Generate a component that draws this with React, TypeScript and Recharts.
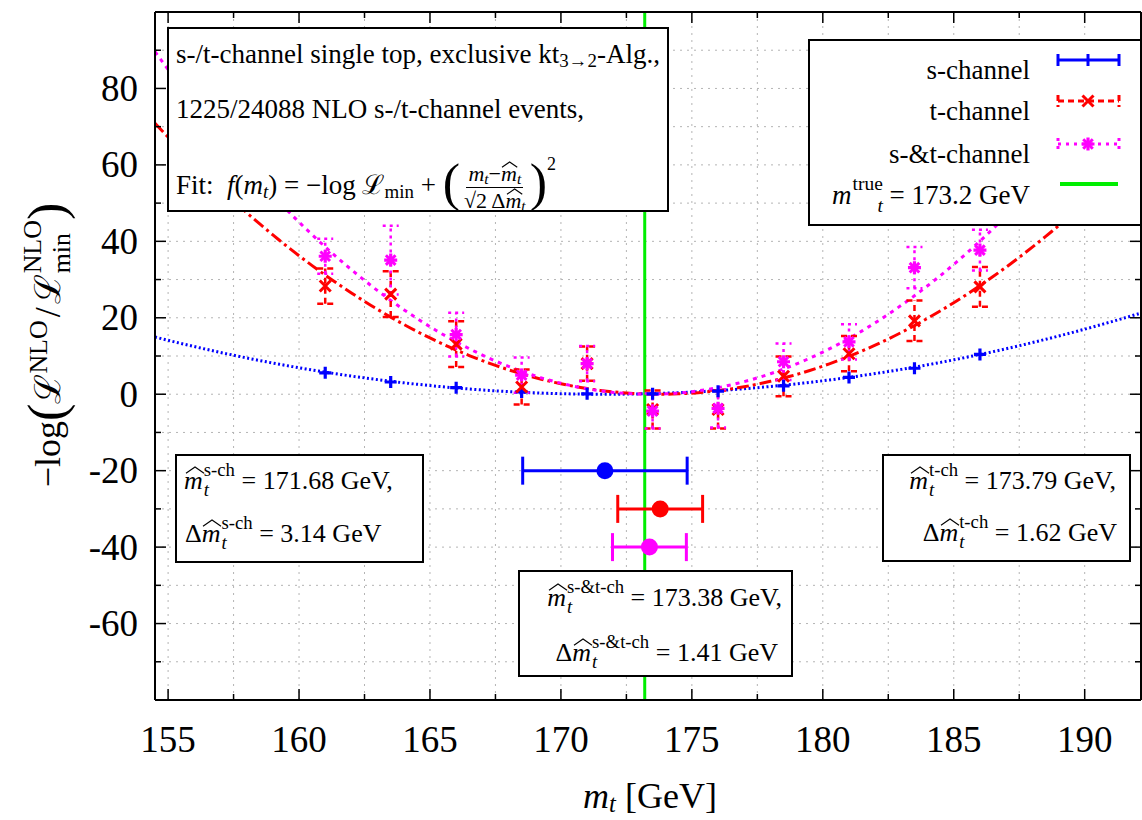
import React from "react";
import {
  ComposedChart,
  XAxis,
  YAxis,
  CartesianGrid,
  Line,
  Scatter,
  ErrorBar,
  ReferenceLine,
  Legend,
} from "recharts";

// scan points in m_t [GeV] and -log(L/Lmin) per channel
const massPoints = [161, 163.5, 166, 168.5, 171, 173.5, 176, 178.5, 181, 183.5, 186];
const sChannel = [5.6, 3.2, 1.7, 0.6, 0.1, 0.1, 0.8, 2.2, 4.4, 6.8, 10.4];
const tChannel = [28.3, 26.2, 13.1, 1.9, 8.0, -4.0, -4.0, 4.7, 10.6, 19.2, 28.1];
const tChannelErr = [4.6, 6.0, 6.0, 4.6, 4.5, 5.0, 5.0, 5.2, 4.6, 5.3, 5.2];
const stChannel = [36.1, 35.1, 15.6, 5.0, 8.0, -4.4, -3.7, 8.5, 13.7, 33.1, 37.7];
const stChannelErr = [4.6, 9.0, 5.7, 4.6, 4.6, 4.6, 5.0, 4.8, 4.6, 5.4, 5.3];

// fit results (m̂_t, Δm̂_t) for s, t and s+t, and the row they are drawn on
const fitMass = [171.68, 173.79, 173.38];
const fitWidth = [3.14, 1.62, 1.41];
const fitRowY = [-20, -30, -40];

const mTrue = 173.2;

const xDomain: [number, number] = [154.5, 192.15];
const yDomain: [number, number] = [-80, 100];
const xTicks = [155, 157.5, 160, 162.5, 165, 167.5, 170, 172.5, 175, 177.5, 180, 182.5, 185, 187.5, 190];
const yTicks = [-70, -60, -50, -40, -30, -20, -10, 0, 10, 20, 30, 40, 50, 60, 70, 80, 90];

const BLUE = "#0000ff";
const RED = "#ff0000";
const MAGENTA = "#ff00ff";
const GREEN = "#00ee00";
const SERIF = '"Liberation Serif", "Times New Roman", serif';

const PLOT_LEFT = 155;
const PLOT_RIGHT = 1141;
const PLOT_TOP = 12;
const PLOT_BOTTOM = 700;

// parabola f(m) = ((m - m̂)/(√2 Δm̂))^2 of each fit, sampled over the x range
const curveMasses = Array.from({ length: 153 }, (_, i) => xDomain[0] + i * 0.25);
const fitCurve = (k: number, m: number) => ((m - fitMass[k]) / (Math.SQRT2 * fitWidth[k])) ** 2;
const curveData = curveMasses.map((m) => ({ m, s: fitCurve(0, m), t: fitCurve(1, m), st: fitCurve(2, m) }));

const sData = massPoints.map((m, i) => ({ m, v: sChannel[i] }));
const tData = massPoints.map((m, i) => ({ m, v: tChannel[i], err: tChannelErr[i] }));
const stData = massPoints.map((m, i) => ({ m, v: stChannel[i], err: stChannelErr[i] }));
const summaryData = fitMass.map((m, i) => [{ m, v: fitRowY[i], err: fitWidth[i] }]);

const PlusMark = ({ cx, cy, color = BLUE, r = 6 }: any) => (
  <path d={`M${cx - r},${cy}H${cx + r}M${cx},${cy - r}V${cy + r}`} stroke={color} strokeWidth={3.2} fill="none" />
);
const CrossMark = ({ cx, cy, color = RED, r = 5.5 }: any) => (
  <path
    d={`M${cx - r},${cy - r}L${cx + r},${cy + r}M${cx + r},${cy - r}L${cx - r},${cy + r}`}
    stroke={color}
    strokeWidth={3}
    fill="none"
  />
);
const StarMark = ({ cx, cy, color = MAGENTA }: any) => (
  <g>
    <PlusMark cx={cx} cy={cy} color={color} r={6.5} />
    <CrossMark cx={cx} cy={cy} color={color} r={4.8} />
  </g>
);

const tickStyle = { stroke: "#000", strokeWidth: 1.5 };

const renderBottomTick = (props: any) => {
  const { x, payload } = props;
  const major = payload.value % 5 === 0;
  return (
    <g>
      <line x1={x} x2={x} y1={PLOT_BOTTOM} y2={PLOT_BOTTOM - (major ? 11 : 6)} {...tickStyle} />
      {major && (
        <text x={x} y={752} textAnchor="middle" fontFamily={SERIF} fontSize={37} fill="#000">
          {payload.value}
        </text>
      )}
    </g>
  );
};

const renderTopTick = (props: any) => {
  const { x, payload } = props;
  const major = payload.value % 5 === 0;
  return <line x1={x} x2={x} y1={PLOT_TOP} y2={PLOT_TOP + (major ? 11 : 6)} {...tickStyle} />;
};

const renderLeftTick = (props: any) => {
  const { y, payload } = props;
  const major = payload.value % 20 === 0;
  return (
    <g>
      <line x1={PLOT_LEFT} x2={PLOT_LEFT + (major ? 11 : 6)} y1={y} y2={y} {...tickStyle} />
      {major && (
        <text x={138} y={y + 12.5} textAnchor="end" fontFamily={SERIF} fontSize={37} fill="#000">
          {payload.value}
        </text>
      )}
    </g>
  );
};

const renderRightTick = (props: any) => {
  const { y, payload } = props;
  const major = payload.value % 20 === 0;
  return <line x1={PLOT_RIGHT} x2={PLOT_RIGHT - (major ? 11 : 6)} y1={y} y2={y} {...tickStyle} />;
};

// --- small typesetting helpers ---
const subStyle: React.CSSProperties = { fontSize: "0.7em", verticalAlign: "-0.22em", lineHeight: 0 };

// superscript over subscript; negative margins keep the line box from growing
const Stack = ({ sup, sub }: { sup: React.ReactNode; sub: React.ReactNode }) => (
  <span
    style={{
      display: "inline-flex",
      flexDirection: "column",
      fontSize: "0.72em",
      lineHeight: 1.12,
      verticalAlign: "0.72em",
      marginLeft: 1,
      marginTop: "-2em",
      marginBottom: "-2em",
    }}
  >
    <span>{sup}</span>
    <span>{sub}</span>
  </span>
);

const HatM = () => (
  <span style={{ position: "relative", display: "inline-block", lineHeight: 1 }}>
    <i>m</i>
    <svg
      viewBox="0 0 20 6"
      preserveAspectRatio="none"
      style={{ position: "absolute", left: "8%", width: "96%", top: "-0.04em", height: "0.24em", overflow: "visible" }}
    >
      <path d="M0,6 L10,0 L20,6" fill="none" stroke="#000" strokeWidth={1.1} vectorEffect="non-scaling-stroke" />
    </svg>
  </span>
);

const Mt = () => (
  <>
    <i>m</i>
    <span style={subStyle}>
      <i>t</i>
    </span>
  </>
);

const HatMt = ({ tag }: { tag: string }) => (
  <>
    <HatM />
    <Stack sup={tag} sub={<i>t</i>} />
  </>
);

const Frac = ({ num, den }: { num: React.ReactNode; den: React.ReactNode }) => (
  <span
    style={{
      display: "inline-flex",
      flexDirection: "column",
      alignItems: "center",
      verticalAlign: "middle",
      fontSize: 22,
      lineHeight: "24px",
      margin: "-20px 2px",
    }}
  >
    <span style={{ padding: "0 2px 1px", borderBottom: "1px solid #000" }}>{num}</span>
    <span style={{ padding: "1px 2px 0" }}>{den}</span>
  </span>
);

const bigParen: React.CSSProperties = { fontSize: 52, lineHeight: "20px", verticalAlign: "-6px", fontWeight: 300 };

const boxStyle: React.CSSProperties = {
  position: "absolute",
  background: "#fff",
  border: "2px solid #000",
  boxSizing: "border-box",
  fontFamily: SERIF,
  color: "#000",
};

const lineStyle = (size: number): React.CSSProperties => ({
  position: "absolute",
  whiteSpace: "nowrap",
  fontSize: size,
  lineHeight: `${size}px`,
});

// legend entries: label, and sample drawing
const legendRows = [
  { label: <>s-channel</>, kind: "s" },
  { label: <>t-channel</>, kind: "t" },
  { label: <>s-&amp;t-channel</>, kind: "st" },
  {
    label: (
      <>
        <i>m</i>
        <Stack sup="true" sub={<i>t</i>} /> = {mTrue} GeV
      </>
    ),
    kind: "true",
  },
];
const legendTextTops = [16, 57, 100, 141];
const legendSampleTops = [19, 60, 103, 143];

const LegendSample = ({ kind }: { kind: string }) => (
  <svg width={66} height={20} style={{ display: "block", overflow: "visible" }}>
    {kind === "s" && (
      <g stroke={BLUE} strokeWidth={3}>
        <line x1={2} x2={63} y1={10} y2={10} />
        <line x1={2} x2={2} y1={4} y2={16} />
        <line x1={63} x2={63} y1={4} y2={16} />
        <line x1={32} x2={32} y1={4} y2={16} />
      </g>
    )}
    {kind === "t" && (
      <g stroke={RED} strokeWidth={3} strokeDasharray="6 4">
        <line x1={2} x2={63} y1={10} y2={10} />
        <line x1={2} x2={2} y1={4} y2={16} />
        <line x1={63} x2={63} y1={4} y2={16} />
      </g>
    )}
    {kind === "t" && <CrossMark cx={32} cy={10} />}
    {kind === "st" && (
      <g stroke={MAGENTA} strokeWidth={3} strokeDasharray="3 5">
        <line x1={2} x2={63} y1={10} y2={10} />
        <line x1={2} x2={2} y1={4} y2={16} />
        <line x1={63} x2={63} y1={4} y2={16} />
      </g>
    )}
    {kind === "st" && <StarMark cx={32} cy={10} />}
    {kind === "true" && <line x1={4} x2={62} y1={10} y2={10} stroke={GREEN} strokeWidth={4} />}
  </svg>
);

const LegendBox = () => (
  <div style={{ ...boxStyle, left: 0, top: 0, width: 334, height: 187 }}>
    {legendRows.map((row, i) => (
      <React.Fragment key={row.kind}>
        <div style={{ ...lineStyle(27), top: legendTextTops[i], left: 0, width: 220, textAlign: "right" }}>
          {row.label}
        </div>
        <div style={{ position: "absolute", left: 246, top: legendSampleTops[i] - 10 }}>
          <LegendSample kind={row.kind} />
        </div>
      </React.Fragment>
    ))}
  </div>
);

export default function App() {
  return (
    <div style={{ position: "absolute", left: 0, top: 0, width: 1142, height: 820, background: "#fff", overflow: "hidden" }}>
      <ComposedChart width={1142} height={820} margin={{ top: 0, right: 0, bottom: 0, left: 0 }}>
        <CartesianGrid stroke="#b4b4b4" strokeDasharray="2 5" strokeWidth={1} />
        <XAxis
          dataKey="m"
          type="number"
          domain={xDomain}
          ticks={xTicks}
          allowDataOverflow
          height={120}
          tickLine={false}
          axisLine={{ stroke: "#000", strokeWidth: 2 }}
          tick={renderBottomTick}
          interval={0}
        />
        <XAxis
          xAxisId="top"
          orientation="top"
          dataKey="m"
          type="number"
          domain={xDomain}
          ticks={xTicks}
          allowDataOverflow
          height={12}
          tickLine={false}
          axisLine={{ stroke: "#000", strokeWidth: 2 }}
          tick={renderTopTick}
          interval={0}
        />
        <YAxis
          type="number"
          domain={yDomain}
          ticks={yTicks}
          allowDataOverflow
          width={155}
          tickLine={false}
          axisLine={{ stroke: "#000", strokeWidth: 2 }}
          tick={renderLeftTick}
          interval={0}
        />
        <YAxis
          yAxisId="right"
          orientation="right"
          type="number"
          domain={yDomain}
          ticks={yTicks}
          allowDataOverflow
          width={1}
          tickLine={false}
          axisLine={{ stroke: "#000", strokeWidth: 2 }}
          tick={renderRightTick}
          interval={0}
        />

        <Line data={curveData} dataKey="s" stroke={BLUE} strokeWidth={3} strokeDasharray="2 2.5" dot={false} activeDot={false} isAnimationActive={false} />
        <Line data={curveData} dataKey="t" stroke={RED} strokeWidth={3} strokeDasharray="12 4 3 4" dot={false} activeDot={false} isAnimationActive={false} />
        <Line data={curveData} dataKey="st" stroke={MAGENTA} strokeWidth={3} strokeDasharray="4 5" dot={false} activeDot={false} isAnimationActive={false} />

        <ReferenceLine x={mTrue} stroke={GREEN} strokeWidth={3} />

        <Scatter data={sData} dataKey="v" isAnimationActive={false} shape={(p: any) => <PlusMark cx={p.cx} cy={p.cy} />} />
        <Scatter data={tData} dataKey="v" isAnimationActive={false} shape={(p: any) => <CrossMark cx={p.cx} cy={p.cy} />}>
          <ErrorBar dataKey="err" direction="y" width={8} stroke={RED} strokeWidth={2.5} strokeDasharray="6 4" isAnimationActive={false} />
        </Scatter>
        <Scatter data={stData} dataKey="v" isAnimationActive={false} shape={(p: any) => <StarMark cx={p.cx} cy={p.cy} />}>
          <ErrorBar dataKey="err" direction="y" width={8} stroke={MAGENTA} strokeWidth={2.5} strokeDasharray="3 4" isAnimationActive={false} />
        </Scatter>

        {summaryData.map((d, i) => {
          const color = [BLUE, RED, MAGENTA][i];
          return (
            <Scatter
              key={i}
              data={d}
              dataKey="v"
              isAnimationActive={false}
              shape={(p: any) => <circle cx={p.cx} cy={p.cy} r={8.5} fill={color} />}
            >
              <ErrorBar dataKey="err" direction="x" width={14} stroke={color} strokeWidth={3} isAnimationActive={false} />
            </Scatter>
          );
        })}

        <Legend
          layout="horizontal"
          verticalAlign="middle"
          align="center"
          content={() => <LegendBox />}
          wrapperStyle={{ left: 808, top: 39, width: 334, height: 187 }}
        />
      </ComposedChart>

      {/* description and fit formula */}
      <div style={{ ...boxStyle, left: 167, top: 27, width: 502, height: 185 }}>
        <div style={{ ...lineStyle(27), left: 7, top: 12 }}>
          s-/t-channel single top, exclusive kt<span style={subStyle}>3→2</span>-Alg.,
        </div>
        <div style={{ ...lineStyle(27), left: 7, top: 67 }}>1225/24088 NLO s-/t-channel events,</div>
        <div style={{ ...lineStyle(27), left: 7, top: 135 }}>
          Fit:&nbsp; <i>f</i>(<Mt />) = −log ℒ<span style={subStyle}>min</span> +{" "}
          <span style={bigParen}>(</span>
          <Frac
            num={
              <>
                <Mt />−<HatM />
                <span style={subStyle}>
                  <i>t</i>
                </span>
              </>
            }
            den={
              <>
                √2 Δ<HatM />
                <span style={subStyle}>
                  <i>t</i>
                </span>
              </>
            }
          />
          <span style={bigParen}>)</span>
          <span style={{ fontSize: 18, verticalAlign: "24px", lineHeight: 0 }}>2</span>
        </div>
      </div>

      {/* s-channel fit result */}
      <div style={{ ...boxStyle, left: 175, top: 454, width: 249, height: 109 }}>
        <div style={{ ...lineStyle(26), left: 7, top: 12 }}>
          <HatMt tag="s-ch" /> = {fitMass[0]} GeV,
        </div>
        <div style={{ ...lineStyle(26), left: 8, top: 65 }}>
          Δ<HatMt tag="s-ch" /> = {fitWidth[0]} GeV
        </div>
      </div>

      {/* t-channel fit result */}
      <div style={{ ...boxStyle, left: 882, top: 454, width: 249, height: 108 }}>
        <div style={{ ...lineStyle(26), right: 13, top: 12 }}>
          <HatMt tag="t-ch" /> = {fitMass[1]} GeV,
        </div>
        <div style={{ ...lineStyle(26), right: 12, top: 64 }}>
          Δ<HatMt tag="t-ch" /> = {fitWidth[1]} GeV
        </div>
      </div>

      {/* combined fit result */}
      <div style={{ ...boxStyle, left: 518, top: 570, width: 275, height: 107 }}>
        <div style={{ ...lineStyle(26), right: 9, top: 13 }}>
          <HatMt tag="s-&t-ch" /> = {fitMass[2]} GeV,
        </div>
        <div style={{ ...lineStyle(26), right: 13, top: 68 }}>
          Δ<HatMt tag="s-&t-ch" /> = {fitWidth[2]} GeV
        </div>
      </div>

      {/* axis titles */}
      <div
        style={{
          position: "absolute",
          left: 47,
          top: 345,
          transform: "translate(-50%, -50%) rotate(-90deg)",
          whiteSpace: "nowrap",
          fontFamily: SERIF,
          fontSize: 36,
          lineHeight: "36px",
        }}
      >
        −log<span style={{ fontSize: 52, verticalAlign: "-4px", fontWeight: 300 }}>(</span>ℒ
        <span style={{ fontSize: "0.72em", verticalAlign: "0.5em", lineHeight: 0 }}>NLO</span>
        <span style={{ margin: "0 3px" }}>/</span>ℒ
        <Stack sup="NLO" sub="min" />
        <span style={{ fontSize: 52, verticalAlign: "-4px", fontWeight: 300 }}>)</span>
      </div>
      <div
        style={{
          position: "absolute",
          left: 650,
          top: 778,
          transform: "translateX(-50%)",
          whiteSpace: "nowrap",
          fontFamily: SERIF,
          fontSize: 36,
          lineHeight: "36px",
        }}
      >
        <i>m</i>
        <span style={{ fontSize: "0.68em", verticalAlign: "-0.15em", lineHeight: 0 }}>
          <i>t</i>
        </span>{" "}
        [GeV]
      </div>
    </div>
  );
}
